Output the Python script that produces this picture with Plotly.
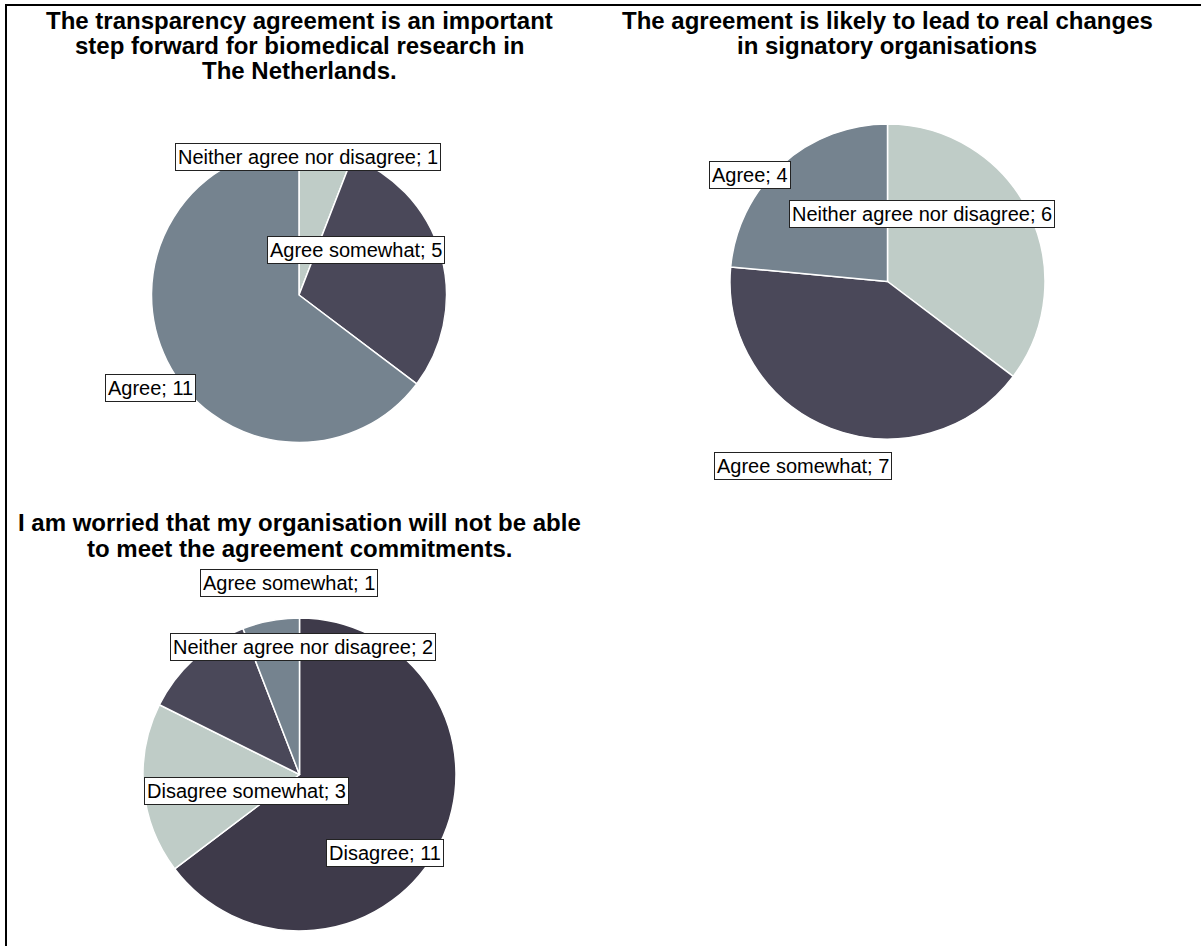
import plotly.graph_objects as go

W, H = 1201, 946

# Data
title_lines = [
    ["The transparency agreement is an important",
     "step forward for biomedical research in",
     "The Netherlands."],
    ["The agreement is likely to lead to real changes",
     "in signatory organisations"],
    ["I am worried that my organisation will not be able",
     "to meet the agreement commitments."],
]
labels_1 = ["Neither agree nor disagree", "Agree somewhat", "Agree"]
values_1 = [1, 5, 11]
labels_2 = ["Neither agree nor disagree", "Agree somewhat", "Agree"]
values_2 = [6, 7, 4]
labels_3 = ["Disagree", "Disagree somewhat", "Neither agree nor disagree", "Agree somewhat"]
values_3 = [11, 3, 2, 1]

LIGHT = "#BFCCC7"
DARK = "#4A4859"
BLUEGREY = "#75838F"
DARKEST = "#3E3A4A"
colors_1 = [LIGHT, DARK, BLUEGREY]
colors_2 = [LIGHT, DARK, BLUEGREY]
colors_3 = [DARKEST, LIGHT, DARK, BLUEGREY]

FONT = "Liberation Sans, Arial, sans-serif"

# layout: pie centres/radii in pixels
pies = [
    (labels_1, values_1, colors_1, (299, 295, 147.5)),
    (labels_2, values_2, colors_2, (887.5, 281.5, 157.5)),
    (labels_3, values_3, colors_3, (299.5, 774.5, 156.5)),
]
# label box centres in pixels, in slice order
label_pos = [
    [(308, 157), (356, 250), (150, 388)],
    [(922, 214), (803, 466), (750, 175)],
    [(385, 853), (246, 791), (303, 647), (289, 583)],
]
title_pos = [(299, [20, 46, 71]), (887, [20, 46]), (299, [522, 548])]

fig = go.Figure()
annotations = []
for i, (labs, vals, cols, (cx, cy, r)) in enumerate(pies):
    fig.add_trace(go.Pie(
        labels=labs, values=vals, sort=False, direction="clockwise", rotation=0,
        marker=dict(colors=cols, line=dict(color="white", width=1.5)),
        textinfo="none", hoverinfo="label+value", showlegend=False,
        domain=dict(x=[(cx - r) / W, (cx + r) / W], y=[1 - (cy + r) / H, 1 - (cy - r) / H]),
    ))
    for lab, val, (px, py) in zip(labs, vals, label_pos[i]):
        annotations.append(dict(
            x=px / W, y=1 - py / H, xref="paper", yref="paper",
            text=f"{lab}; {val}", showarrow=False,
            font=dict(family=FONT, size=20, color="black"),
            bgcolor="white", bordercolor="#222222", borderwidth=1, borderpad=2,
            xanchor="center", yanchor="middle",
        ))
    tx, tys = title_pos[i]
    for line, ty in zip(title_lines[i], tys):
        annotations.append(dict(
            x=tx / W, y=1 - ty / H, xref="paper", yref="paper",
            text=f"<b>{line}</b>", showarrow=False,
            font=dict(family=FONT, size=24, color="black"),
            xanchor="center", yanchor="middle", align="center",
        ))

fig.update_layout(
    width=W, height=H,
    margin=dict(l=0, r=0, t=0, b=0),
    paper_bgcolor="white", plot_bgcolor="white",
    annotations=annotations,
    shapes=[dict(type="rect", xref="paper", yref="paper",
                 x0=6 / W, x1=1.01, y0=-0.01, y1=1 - 5 / H,
                 line=dict(color="black", width=2))],
)

fig.write_html("out.html", config={"displayModeBar": False},
               post_script="document.body.style.margin='0px';")
